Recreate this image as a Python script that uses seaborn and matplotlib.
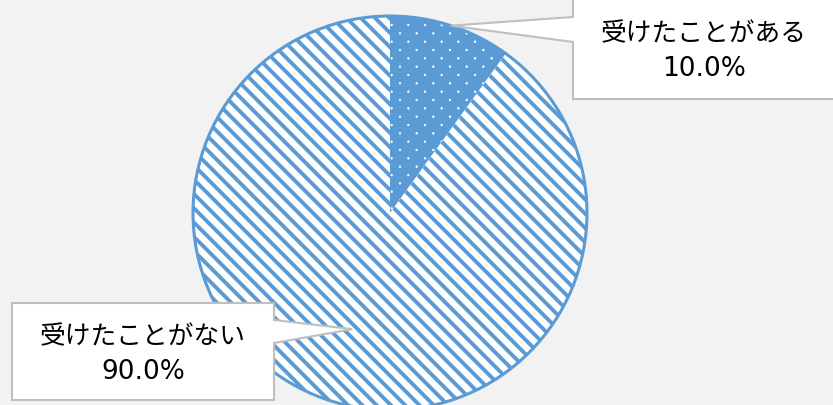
import numpy as np
import matplotlib
matplotlib.use("Agg")
import matplotlib.pyplot as plt
import matplotlib.hatch as mhatch
from matplotlib.path import Path
import seaborn as sns
from matplotlib.patches import Polygon, Circle

categories = ["受けたことがある", "受けたことがない"]
values = [10.0, 90.0]
pct_labels = ["10.0%", "90.0%"]

sns.set_theme(style="white")
plt.rcParams['font.family'] = ['Noto Sans CJK JP', 'DejaVu Sans']


# ---- custom hatch textures (style only) ----
class SparseDots(mhatch.HatchPatternBase):
    """Staggered small dots: 6 per inch across, 12 rows per inch."""
    ncol, nrow, rad = 6, 12, 0.008

    def __init__(self, hatch, density):
        self.on = '.' in hatch
        circ = Path.unit_circle()
        self.sv = circ.vertices
        self.sc = circ.codes
        pts = []
        for r in range(self.nrow + 1):
            if r % 2 == 0:
                cols = [k / self.ncol for k in range(self.ncol + 1)]
            else:
                cols = [(k + 0.5) / self.ncol for k in range(self.ncol)]
            for c in cols:
                pts.append((c, r / self.nrow))
        self.pts = pts
        self.num_vertices = len(pts) * len(self.sv) if self.on else 0

    def set_vertices_and_codes(self, vertices, codes):
        vs, cs = [], []
        for (x, y) in self.pts:
            vs.append(self.sv * self.rad + [x, y])
            cs.append(self.sc)
        np.concatenate(vs, out=vertices)
        np.concatenate(cs, out=codes)


class Stripes(mhatch.HatchPatternBase):
    """Diagonal stripes (upper-left to lower-right), 7 per inch."""
    n = 7

    def __init__(self, hatch, density):
        self.on = '\\' in hatch
        self.cs = [k / self.n for k in range(-self.n, 3 * self.n + 1)]
        self.num_vertices = 2 * len(self.cs) if self.on else 0

    def set_vertices_and_codes(self, vertices, codes):
        for i, c in enumerate(self.cs):
            vertices[2 * i] = (-0.5, c + 0.5)
            vertices[2 * i + 1] = (1.5, c - 1.5)
        codes[0::2] = Path.MOVETO
        codes[1::2] = Path.LINETO


mhatch._hatch_types = [SparseDots, Stripes]

W, H = 833, 405
BLUE = "#5b9bd5"
BG = "#f2f2f2"
GRAY = "#bfbfbf"

plt.rcParams['hatch.linewidth'] = 2.8

fig = plt.figure(figsize=(W / 100, H / 100), dpi=100)
fig.patch.set_facecolor(BG)
ax = fig.add_axes([0, 0, 1, 1])
ax.set_facecolor(BG)


def Y(y):
    return H - y


cx, cy, R = 390, Y(213), 197
wedges, _ = ax.pie(values, colors=[BLUE, "white"], startangle=90,
                   counterclock=False, center=(cx, cy), radius=R,
                   wedgeprops=dict(linewidth=0))

wedges[0].set_edgecolor("white")
wedges[0].set_linewidth(0)
wedges[0].set_hatch(".")
wedges[1].set_edgecolor(BLUE)
wedges[1].set_linewidth(0)
wedges[1].set_hatch("\\")
for w, lw in zip(wedges, [0.5, 2.8]):
    if hasattr(w, "set_hatch_linewidth"):
        w.set_hatch_linewidth(lw)

ax.add_patch(Circle((cx, cy), R, facecolor="none", edgecolor=BLUE,
                    linewidth=2.2, zorder=3))

# anchor points from slice mid-angles
cum = np.cumsum([0] + values)
total = sum(values)
mids = [(cum[i] + cum[i + 1]) / 2 / total * 360 for i in range(len(values))]
radii_frac = [1.0, 0.62]
tips = []
for m, f in zip(mids, radii_frac):
    a = np.deg2rad(90 - m)
    tips.append((cx + R * f * np.cos(a), cy + R * f * np.sin(a)))

FS_JP = 18.5
FS_PCT = 19

# callout 1 (top right)
tx, ty = tips[0]
poly1 = [(573, Y(-2)), (836, Y(-2)), (836, Y(99)), (573, Y(99)), (573, Y(42)),
         (tx, ty), (573, Y(17))]
ax.add_patch(Polygon(poly1, closed=True, facecolor="white", edgecolor=GRAY,
                     linewidth=1.5, zorder=4))
ax.text(704, Y(34), categories[0], ha="center", va="center", fontsize=FS_JP,
        color="#000000", zorder=5)
ax.text(704, Y(76), pct_labels[0], ha="center", va="baseline", fontsize=FS_PCT,
        color="#000000", zorder=5, family=['DejaVu Sans'])

# callout 2 (bottom left)
tx, ty = tips[1]
poly2 = [(12, Y(303)), (274, Y(303)), (274, Y(320)), (tx, ty), (274, Y(343)),
         (274, Y(400)), (12, Y(400))]
ax.add_patch(Polygon(poly2, closed=True, facecolor="white", edgecolor=GRAY,
                     linewidth=1.5, zorder=4))
ax.text(143, Y(337), categories[1], ha="center", va="center", fontsize=FS_JP,
        color="#000000", zorder=5)
ax.text(143, Y(379), pct_labels[1], ha="center", va="baseline", fontsize=FS_PCT,
        color="#000000", zorder=5, family=['DejaVu Sans'])

ax.set_xlim(0, W)
ax.set_ylim(0, H)
ax.set_aspect("auto")
ax.axis("off")

fig.savefig("out.png", dpi=100, facecolor=BG)
